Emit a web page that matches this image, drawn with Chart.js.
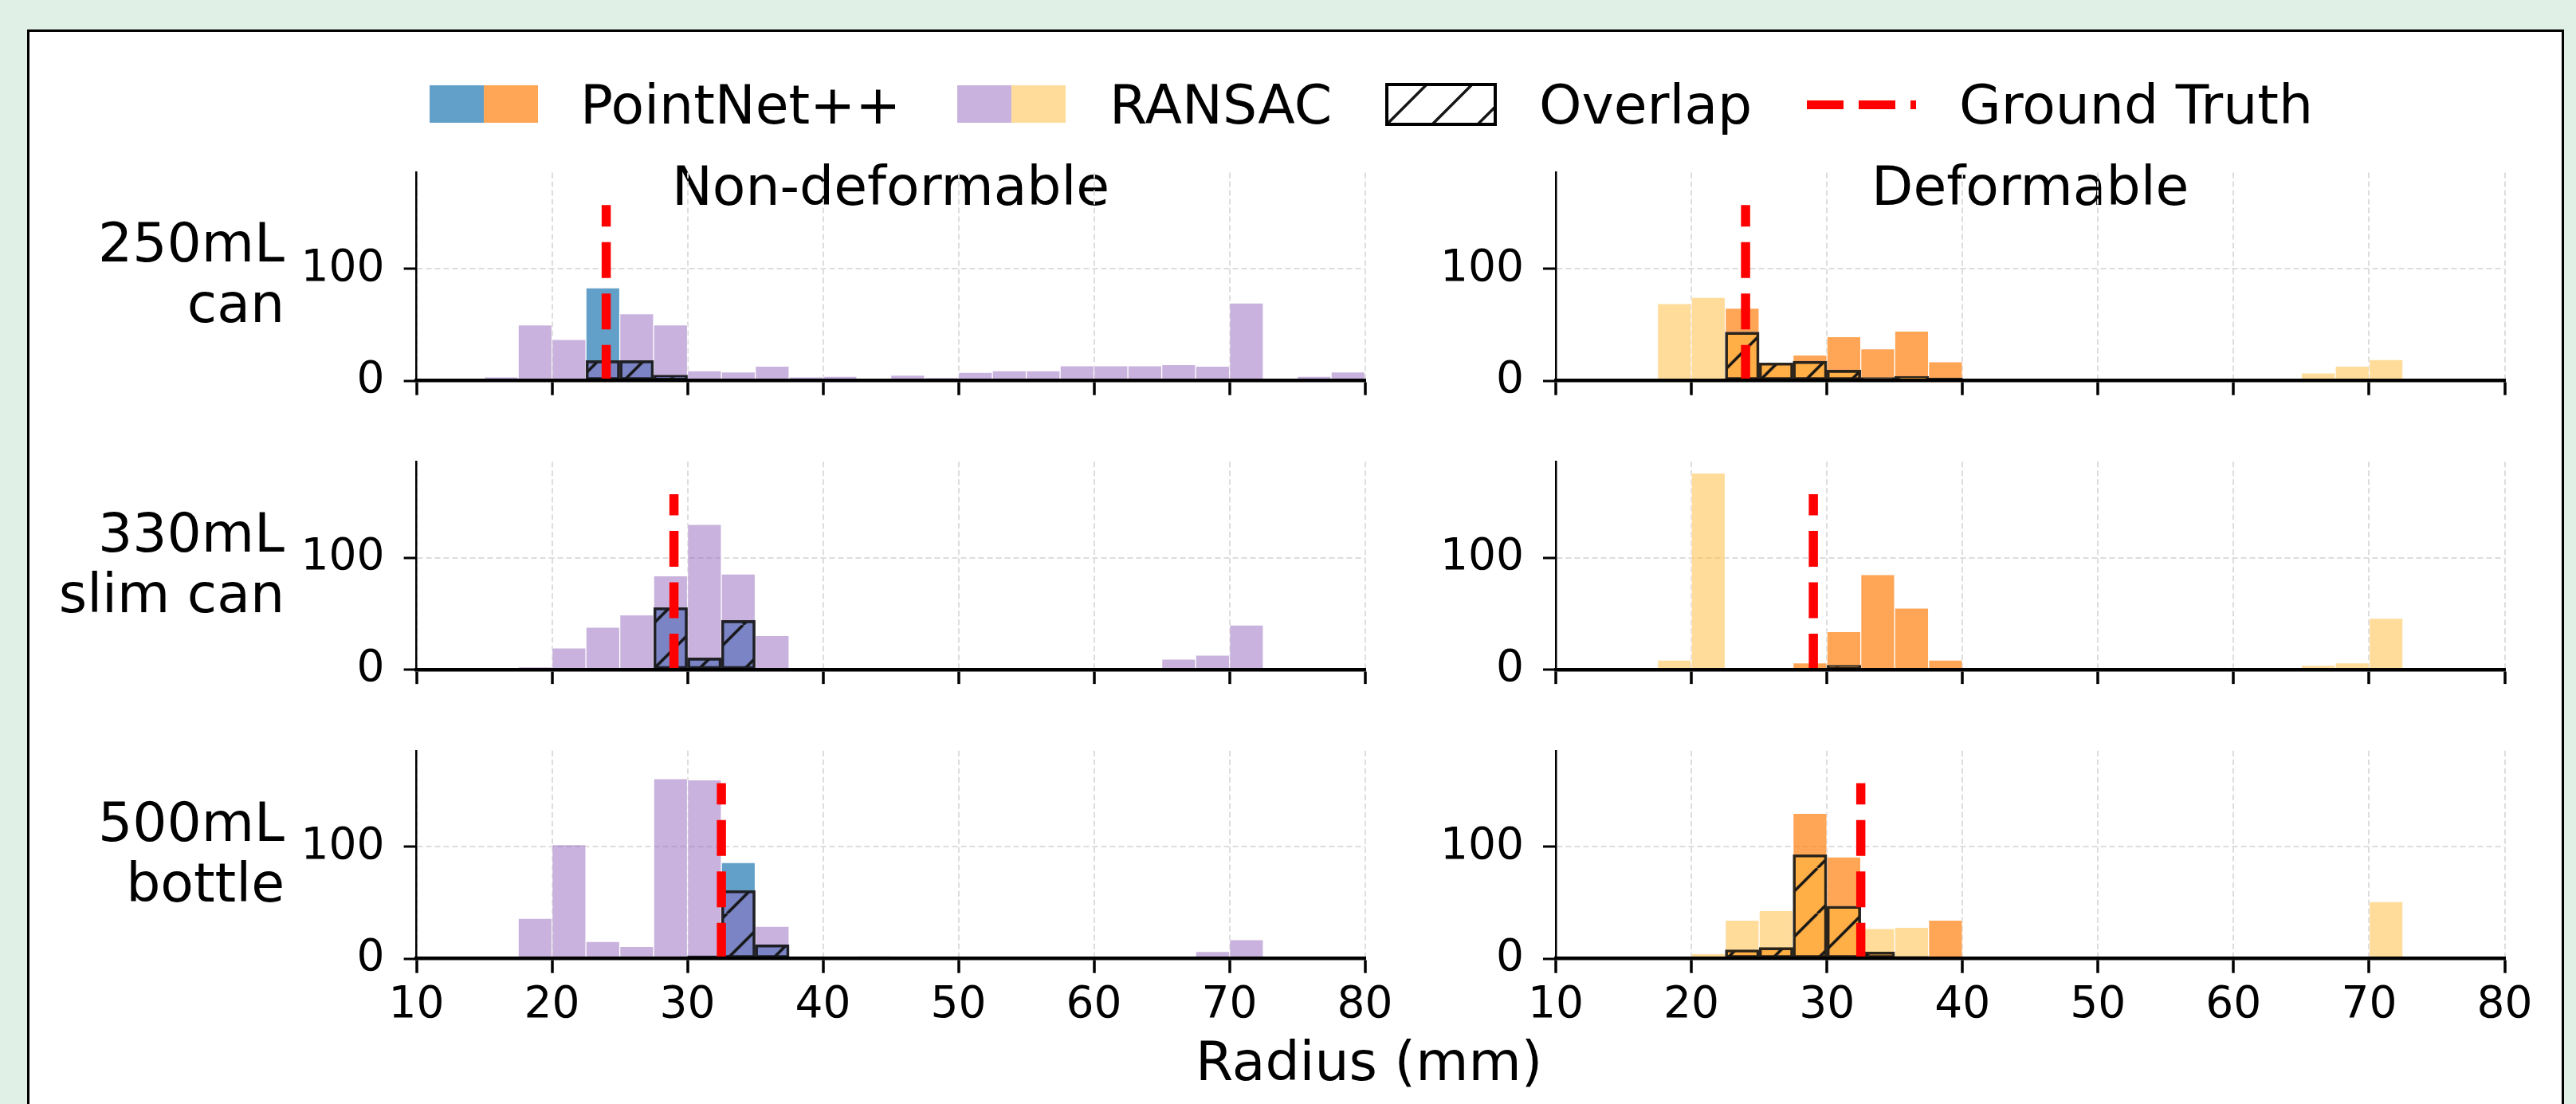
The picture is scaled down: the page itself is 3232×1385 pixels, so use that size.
<!DOCTYPE html>
<html>
<head>
<meta charset="utf-8">
<title>Radius histograms</title>
<script src="https://cdn.jsdelivr.net/npm/chart.js@4.4.1/dist/chart.umd.min.js"></script>
<style>
  html, body { margin: 0; padding: 0; }
  body {
    position: relative; width: 3232px; height: 1385px; overflow: hidden;
    background: #e0f0e6; font-family: "DejaVu Sans", sans-serif; color: #000;
  }
  #frame {
    position: absolute; left: 34px; top: 37px; width: 3183px; height: 1420px;
    background: #fff; border: 3.5px solid #000; box-sizing: border-box;
  }
  .txt { position: absolute; font-size: 68px; line-height: 76px; white-space: nowrap; }
  .patch { position: absolute; top: 107px; height: 47px; width: 68px; }
  canvas { position: absolute; display: block; }
</style>
</head>
<body>
<div id="frame"></div>

<!-- legend -->
<div class="patch" style="left:539px;background:rgba(31,119,180,0.7)"></div>
<div class="patch" style="left:607px;background:rgba(255,127,14,0.7)"></div>
<div class="txt" style="left:728px;top:93.5px">PointNet++</div>
<div class="patch" style="left:1201px;background:rgba(148,103,189,0.5)"></div>
<div class="patch" style="left:1269px;background:rgba(255,185,53,0.5)"></div>
<div class="txt" style="left:1392px;top:93.5px">RANSAC</div>
<canvas id="overlapKey" width="140" height="54" style="left:1738px;top:104px;width:140px;height:54px"></canvas>
<div class="txt" style="left:1931px;top:93.5px">Overlap</div>
<div style="position:absolute;left:2267px;top:126px;width:137px;height:11px;background:repeating-linear-gradient(to right,#ff0000 0 46px,transparent 46px 65px)"></div>
<div class="txt" style="left:2458px;top:93.5px">Ground Truth</div>

<div class="txt" style="left:1500px;top:1293.5px">Radius (mm)</div>

<script>
// histogram bins (mm), 2.5 mm wide
const binEdges = [10, 12.5, 15, 17.5, 20, 22.5, 25, 27.5, 30, 32.5, 35, 37.5, 40, 42.5,
                  45, 47.5, 50, 52.5, 55, 57.5, 60, 62.5, 65, 67.5, 70, 72.5, 75, 77.5, 80];
const xTicks = [10, 20, 30, 40, 50, 60, 70, 80];
const yTicks = [0, 100];
const rowLabels = [['250mL', 'can'], ['330mL', 'slim can'], ['500mL', 'bottle']];
const columnTitles = ['Non-deformable', 'Deformable'];
const groundTruth = [24, 29, 32.5];
const groundTruthTop = 157;

// 250mL can
const pnRigid250      = [0,0,0,0,0,83,18,5, 0,0,0,0,0,0,0,0, 0,0,0,0,0,0,0,0, 0,0,0,0];
const ransacRigid250  = [2,0,3.5,50,37,18,60,50, 9,8,13,3.5,4,0,5,3, 7.5,9,9,13.5,13.5,13.5,14.5,13, 69.5,0,4,8];
const overlapRigid250 = [0,0,0,0,0,18,18,5, 0,0,0,0,0,0,0,0, 0,0,0,0,0,0,0,0, 0,0,0,0];
const pnSoft250       = [0,0,0,0,0,65,16.5,23, 39.5,28.5,44.5,17,0,0,0,0, 0,0,0,0,0,0,0,0, 0,0,0,0];
const ransacSoft250   = [0,0,0,69,74.5,43.5,16,17.5, 9.5,3,4,2.5,0,1.5,0,0, 0,0,0,0,0,1.5,7,13, 19,0,0,0];
const overlapSoft250  = [0,0,0,0,0,43.5,16,17.5, 9.5,3,4,2.5,0,0,0,0, 0,0,0,0,0,0,0,0, 0,0,0,0];

// 330mL slim can
const pnRigid330      = [0,0,0,0,0,0,0,55.5, 10.5,44,0,0,0,0,0,0, 0,0,0,0,0,0,0,0, 0,0,0,0];
const ransacRigid330  = [0,0,0,2.5,19.5,38,49,84, 130,85.5,30.5,0,0,0,0,0, 0,0,0,0,0,0,9.5,13, 40,0,0,0];
const overlapRigid330 = [0,0,0,0,0,0,0,55.5, 10.5,44,0,0,0,0,0,0, 0,0,0,0,0,0,0,0, 0,0,0,0];
const pnSoft330       = [0,0,0,0,0,0,0,6, 34,85,55,8.5,0,0,0,0, 0,0,0,0,0,0,0,0, 0,0,0,0];
const ransacSoft330   = [0,0,0,8.5,176,0,0,0, 4,0,0,0,0,0,0,0, 0,0,0,0,0,0,4,6, 46,0,0,0];
const overlapSoft330  = [0,0,0,0,0,0,0,0, 4,0,0,0,0,0,0,0, 0,0,0,0,0,0,0,0, 0,0,0,0];

// 500mL bottle
const pnRigid500      = [0,0,0,0,0,0,0,0, 2.5,86,12.5,0,0,0,0,0, 0,0,0,0,0,0,0,0, 0,0,0,0];
const ransacRigid500  = [0,0,0,36,102,15.5,11,161, 160,61,29,0,1.5,2.5,0,0, 0,0,0,0,0,0,0,6.5, 17,0,0,0];
const overlapRigid500 = [0,0,0,0,0,0,0,0, 2.5,61,12.5,0,0,0,0,0, 0,0,0,0,0,0,0,0, 0,0,0,0];
const pnSoft500       = [0,0,0,0,0,8,10,130, 91,6,2,34.5,0,0,0,0, 0,0,0,0,0,0,0,0, 0,0,0,0];
const ransacSoft500   = [0,0,0,0,4.5,34.5,43,93, 47,27,28,1.5,0,0,0,0, 0,0,0,0,0,0,0,0, 51,0,0,0];
const overlapSoft500  = [0,0,0,0,0,8,10,93, 47,6,2,1.5,0,0,0,0, 0,0,0,0,0,0,0,0, 0,0,0,0];

const panels = [
  [{pn: pnRigid250, ransac: ransacRigid250, overlap: overlapRigid250},
   {pn: pnSoft250,  ransac: ransacSoft250,  overlap: overlapSoft250}],
  [{pn: pnRigid330, ransac: ransacRigid330, overlap: overlapRigid330},
   {pn: pnSoft330,  ransac: ransacSoft330,  overlap: overlapSoft330}],
  [{pn: pnRigid500, ransac: ransacRigid500, overlap: overlapRigid500},
   {pn: pnSoft500,  ransac: ransacSoft500,  overlap: overlapSoft500}]
];

const pnColors = ['rgba(31,119,180,0.7)', 'rgba(255,127,14,0.7)'];
const ransacColors = ['rgba(148,103,189,0.5)', 'rgba(255,185,53,0.5)'];

// plot areas in page pixels
const areaLeft = [522.6, 1952], areaRight = [1712.6, 3142.5];
const areaTop = [216.6, 579.2, 941.8], areaBottom = [477.7, 840.1, 1202.7];
const canvasLeft = [372, 1802];
const rowLabelTop = [266.8, 631.2, 993.5];

Chart.defaults.font.family = '"DejaVu Sans"';
Chart.defaults.color = '#000';

function hatchPattern(ctx, left, top, phase) {
  const s = 57;
  const tile = document.createElement('canvas');
  tile.width = s; tile.height = s;
  const g = tile.getContext('2d');
  g.strokeStyle = '#161616';
  g.lineWidth = 3.5;
  g.beginPath();
  for (const d of [-s, 0, s]) { g.moveTo(d, s); g.lineTo(d + s, 0); }
  g.stroke();
  const p = ctx.createPattern(tile, 'repeat');
  const o = (((phase - left - top) % s) + s) % s;
  p.setTransform(new DOMMatrix([1, 0, 0, 1, o, 0]));
  return p;
}

function toBars(values, dropZero) {
  return values.map((v, i) => ({
    x: (binEdges[i] + binEdges[i + 1]) / 2,
    y: dropZero && !v ? null : v
  }));
}

// legend hatch key
const key = document.getElementById('overlapKey');
const kctx = key.getContext('2d');
kctx.fillStyle = '#fff'; kctx.fillRect(0, 0, 140, 54);
kctx.fillStyle = hatchPattern(kctx, 1738, 104, 15); kctx.fillRect(0, 0, 140, 54);
kctx.strokeStyle = '#000'; kctx.lineWidth = 4; kctx.strokeRect(2, 2, 136, 50);

// column titles and row labels
columnTitles.forEach((t, c) => {
  const d = document.createElement('div');
  d.className = 'txt';
  d.textContent = t;
  const cx = (areaLeft[c] + areaRight[c]) / 2;
  d.style.cssText = `left:${cx - 600}px;top:195.5px;width:1200px;text-align:center`;
  document.body.appendChild(d);
});
rowLabels.forEach((lines, r) => {
  const d = document.createElement('div');
  d.className = 'txt';
  d.innerHTML = lines.join('<br>');
  d.style.cssText = `left:-43px;top:${rowLabelTop[r]}px;width:400px;text-align:right`;
  document.body.appendChild(d);
});

function makePanel(row, col) {
  const series = panels[row][col];
  const L = canvasLeft[col];
  const T = Math.floor(areaTop[row]) - 80;
  const W = Math.ceil(areaRight[col] - L + 60);
  const xh = row === 2 ? 110 : 75;
  const H = Math.ceil(areaBottom[row] - T + xh);
  const yw = areaLeft[col] - L;
  const padTop = areaTop[row] - T;
  const padRight = W - (areaRight[col] - L);
  const xAxisH = H - (areaBottom[row] - T);

  const canvas = document.createElement('canvas');
  canvas.width = W; canvas.height = H;
  canvas.style.cssText = `left:${L}px;top:${T}px;width:${W}px;height:${H}px`;
  document.body.appendChild(canvas);
  const ctx = canvas.getContext('2d');

  const barCommon = { grouped: false, categoryPercentage: 1, barPercentage: 1 };
  new Chart(ctx, {
    type: 'bar',
    data: {
      datasets: [
        { ...barCommon, label: 'PointNet++', data: toBars(series.pn),
          backgroundColor: pnColors[col], borderColor: 'rgba(255,255,255,0.55)',
          borderWidth: 1, borderSkipped: 'start', order: 3 },
        { ...barCommon, label: 'RANSAC', data: toBars(series.ransac),
          backgroundColor: ransacColors[col], borderColor: 'rgba(255,255,255,0.55)',
          borderWidth: 1, borderSkipped: 'start', order: 2 },
        { ...barCommon, label: 'Overlap', data: toBars(series.overlap, true),
          backgroundColor: hatchPattern(ctx, L, T, 6.3), borderColor: 'rgba(20,20,20,0.9)',
          borderWidth: 3, borderSkipped: false, order: 1 },
        { type: 'line', label: 'Ground Truth',
          data: [{x: groundTruth[row], y: 0}, {x: groundTruth[row], y: groundTruthTop}],
          borderColor: '#ff0000', borderWidth: 11.5, borderDash: [45, 19.5],
          pointRadius: 0, fill: false, order: 0 }
      ]
    },
    options: {
      responsive: false,
      animation: false,
      devicePixelRatio: 1,
      events: [],
      layout: { padding: { top: padTop, right: padRight, left: 0, bottom: 0 } },
      plugins: { legend: { display: false }, tooltip: { enabled: false } },
      scales: {
        x: {
          type: 'linear', min: 10, max: 80, offset: false,
          afterBuildTicks: s => { s.ticks = xTicks.map(v => ({ value: v })); },
          afterFit: s => { s.height = xAxisH; },
          grid: { display: true, offset: false, color: '#dddddd', lineWidth: 2,
                  drawTicks: true, tickLength: 18, tickWidth: 3.5, tickColor: '#000' },
          border: { display: true, color: '#000', width: 4.5, dash: [7, 4], z: 1 },
          ticks: { display: row === 2, font: { size: 55 }, color: '#000', padding: 8,
                   maxRotation: 0, autoSkip: false, callback: v => String(v) }
        },
        y: {
          type: 'linear', min: 0, max: 186,
          afterBuildTicks: s => { s.ticks = yTicks.map(v => ({ value: v })); },
          afterFit: s => { s.width = yw; },
          grid: { display: true, color: '#dddddd', lineWidth: 2,
                  drawTicks: true, tickLength: 16, tickWidth: 3, tickColor: '#000' },
          border: { display: true, color: '#000', width: 2.5, dash: [7, 4], z: 1 },
          ticks: { font: { size: 55 }, color: '#000', padding: 24, callback: v => String(v) }
        }
      }
    }
  });
}

for (let r = 0; r < 3; r++) {
  for (let c = 0; c < 2; c++) makePanel(r, c);
}
</script>
</body>
</html>
